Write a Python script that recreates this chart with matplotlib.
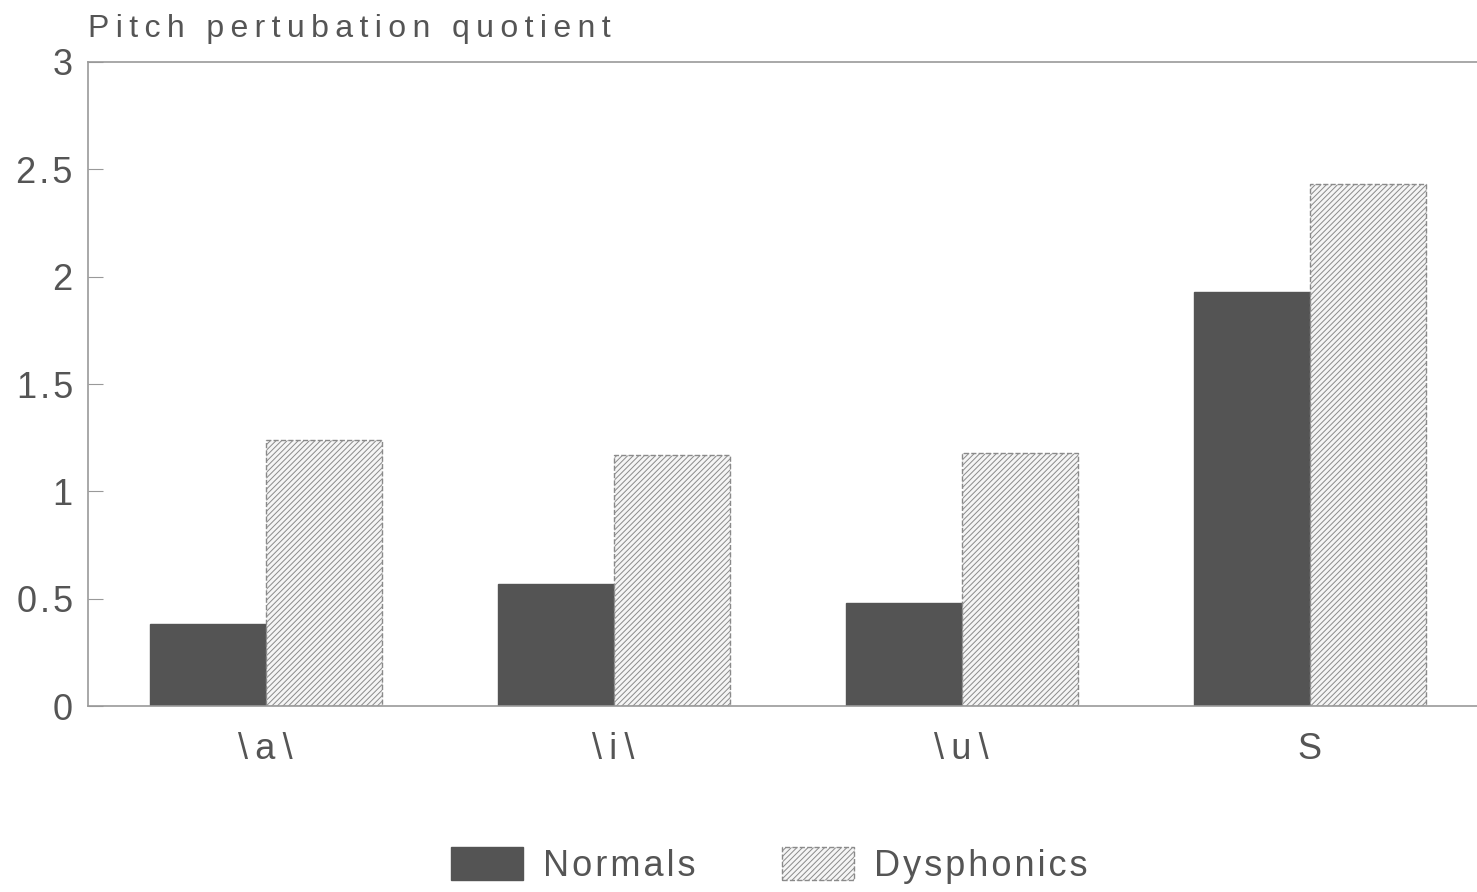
import matplotlib
matplotlib.use('Agg')
import matplotlib.pyplot as plt
import numpy as np

categories = ['\\a\\', '\\i\\', '\\u\\', 'S']
normals = [0.38, 0.57, 0.48, 1.93]
dysphonics = [1.24, 1.17, 1.18, 2.43]
yticks = [0, 0.5, 1, 1.5, 2, 2.5, 3]
ylabels = ['0', '0.5', '1', '1.5', '2', '2.5', '3']

plt.rcParams['font.family'] = ['Liberation Sans', 'DejaVu Sans']
plt.rcParams['hatch.color'] = '#a0a0a0'
plt.rcParams['hatch.linewidth'] = 0.7
grey = '#555555'


def spaced(s, sep='\u2009'):
    # the original print uses wide letter spacing
    return sep.join(s)


fig = plt.figure(figsize=(14.77, 8.92), dpi=100)
ax = fig.add_axes([0.0596, 0.2085, 0.9404, 0.722])

x = np.arange(len(categories))
w = 1 / 3
ax.bar(x - w / 2, normals, w, color='#545454', edgecolor='#545454',
       label=spaced('Normals', '\u200a'))
ax.bar(x + w / 2, dysphonics, w, color='#f5f5f5', edgecolor='#8a8a8a', hatch='//////',
       linestyle='--', linewidth=1, label=spaced('Dysphonics', '\u200a'))

ax.set_xlim(-0.51, 3.48)
ax.set_ylim(0, 3)
ax.set_yticks(yticks)
ax.set_yticklabels([spaced(t, '\u200a') for t in ylabels])
ax.set_xticks(x)
ax.set_xticklabels([spaced(c) for c in categories])
ax.tick_params(axis='y', direction='in', length=11, color='#999999', labelsize=26,
               labelcolor=grey, pad=11)
ax.tick_params(axis='x', length=0, labelsize=26, labelcolor=grey, pad=19)
for s in ['left', 'bottom', 'top']:
    ax.spines[s].set_color('#999999')
    ax.spines[s].set_linewidth(1.2)
ax.spines['right'].set_visible(False)

fig.text(0.0596, 0.968, spaced('Pitch pertubation quotient'), fontsize=23, color=grey,
         ha='left', va='center')

ax.legend(loc='center', bbox_to_anchor=(0.4905, -0.248), ncol=2, frameon=False,
          fontsize=26, labelcolor=grey, handlelength=2.0, handleheight=1.0,
          columnspacing=2.4, handletextpad=0.55)

fig.savefig('out.png', dpi=100)
